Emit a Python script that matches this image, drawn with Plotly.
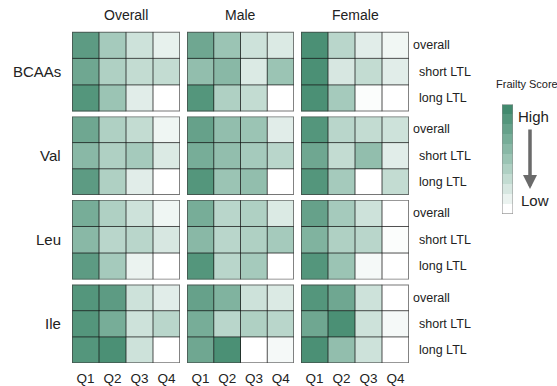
import plotly.graph_objects as go

# Frailty score heatmaps: rows = LTL subgroup, columns = quartile (0 = low, 10 = high)
quartiles = ["Q1", "Q2", "Q3", "Q4"]
subgroups = ["overall", "short LTL", "long LTL"]
metabolites = ["BCAAs", "Val", "Leu", "Ile"]
populations = ["Overall", "Male", "Female"]

bcaas_overall = [[8.5, 4.5, 2.5, 1.2], [7.5, 4.0, 3.0, 3.0], [9.0, 5.0, 1.5, 0.0]]
bcaas_male = [[7.5, 5.0, 2.5, 1.8], [5.5, 6.0, 1.8, 5.0], [9.0, 4.0, 3.0, 0.0]]
bcaas_female = [[9.5, 3.5, 1.5, 0.7], [9.5, 2.0, 3.0, 1.5], [9.5, 4.5, 0.2, 0.0]]

val_overall = [[7.5, 4.0, 3.0, 0.8], [6.0, 4.0, 4.5, 1.8], [8.5, 4.0, 1.5, 0.0]]
val_male = [[8.0, 5.5, 5.0, 1.5], [7.0, 5.5, 4.5, 3.5], [9.0, 5.0, 5.5, 0.0]]
val_female = [[9.0, 3.5, 3.0, 2.5], [7.5, 3.0, 5.5, 1.5], [9.0, 4.5, 0.0, 3.0]]

leu_overall = [[7.0, 4.0, 2.5, 0.8], [6.0, 3.5, 3.5, 2.0], [8.5, 4.5, 1.0, 0.0]]
leu_male = [[7.0, 3.5, 4.0, 1.8], [6.0, 3.5, 4.0, 4.5], [9.0, 3.5, 4.5, 0.0]]
leu_female = [[8.0, 4.5, 2.5, 0.0], [6.5, 4.0, 3.5, 0.2], [9.0, 5.0, 0.5, 0.0]]

ile_overall = [[9.0, 8.5, 2.5, 1.5], [9.0, 7.0, 2.5, 3.5], [9.0, 9.5, 2.5, 0.0]]
ile_male = [[8.0, 6.5, 2.5, 1.8], [7.0, 3.5, 4.0, 3.5], [7.5, 9.5, 0.0, 0.5]]
ile_female = [[9.0, 7.5, 2.5, 0.0], [7.5, 9.5, 2.5, 0.5], [9.5, 5.5, 2.5, 0.0]]

legend_levels = [10, 9, 8, 7, 6, 5, 4, 3, 2, 1, 0]

grid = [
    [bcaas_overall, bcaas_male, bcaas_female],
    [val_overall, val_male, val_female],
    [leu_overall, leu_male, leu_female],
    [ile_overall, ile_male, ile_female],
]

W, H = 557, 386
FONT = "Liberation Sans, Arial, sans-serif"
colorscale = [[0.0, "rgb(255,255,255)"], [0.5, "rgb(155,196,180)"], [1.0, "rgb(66,138,110)"]]

# panel placement in pixels
col_px = [(72, 180), (187, 294), (301, 409)]
row_px = [(32, 112), (117, 196), (201, 281), (286, 365)]


def px_x(v):
    return v / W


def px_y(v):
    return 1 - v / H


fig = go.Figure()
layout = {}
shapes = []
annotations = []

n = 0
for r, metab in enumerate(metabolites):
    for c, pop in enumerate(populations):
        n += 1
        xa = "x" if n == 1 else f"x{n}"
        ya = "y" if n == 1 else f"y{n}"
        fig.add_trace(go.Heatmap(
            z=grid[r][c], x=list(range(4)), y=list(range(3)),
            colorscale=colorscale, zmin=0, zmax=10, showscale=False,
            hoverinfo="skip", xaxis=xa, yaxis=ya,
        ))
        bottom = r == len(metabolites) - 1
        layout[f"xaxis{n}"] = dict(
            domain=[px_x(col_px[c][0]), px_x(col_px[c][1])],
            anchor=ya, range=[-0.5, 3.5], showgrid=False, zeroline=False,
            tickvals=list(range(4)), ticktext=quartiles,
            showticklabels=bottom, ticks="",
            tickfont=dict(family=FONT, size=13.5, color="#222"),
            ticklabelstandoff=5,
        )
        layout[f"yaxis{n}"] = dict(
            domain=[px_y(row_px[r][1]), px_y(row_px[r][0])],
            anchor=xa, range=[2.5, -0.5], showgrid=False, zeroline=False,
            showticklabels=False, ticks="",
        )
        # cell grid lines
        for k in range(1, 4):
            shapes.append(dict(type="line", xref=xa, yref=ya, x0=k - 0.5, x1=k - 0.5,
                               y0=-0.5, y1=2.5, line=dict(color="rgba(20,20,20,0.75)", width=1)))
        for k in range(1, 3):
            shapes.append(dict(type="line", xref=xa, yref=ya, x0=-0.5, x1=3.5,
                               y0=k - 0.5, y1=k - 0.5, line=dict(color="rgba(20,20,20,0.75)", width=1)))
        shapes.append(dict(type="rect", xref=xa, yref=ya, x0=-0.5, x1=3.5, y0=-0.5, y1=2.5,
                           line=dict(color="rgba(60,60,60,0.7)", width=1.8)))
        # column titles
        if r == 0:
            annotations.append(dict(text=pop, xref="paper", yref="paper",
                                    x=sum(px_x(v) for v in col_px[c]) / 2, y=px_y(15),
                                    showarrow=False, xanchor="center", yanchor="middle",
                                    font=dict(family=FONT, size=14, color="#222")))
        # subgroup labels on the right
        if c == len(populations) - 1:
            for i, lab in enumerate(subgroups):
                annotations.append(dict(text=lab, xref="paper", yref=ya,
                                        x=px_x(411 if i == 0 else 417), y=i,
                                        showarrow=False, xanchor="left", yanchor="middle",
                                        font=dict(family=FONT, size=12.5, color="#222")))
    # metabolite labels on the left
    annotations.append(dict(text=metab, xref="paper", yref="paper",
                            x=px_x(63), y=(px_y(row_px[r][0]) + px_y(row_px[r][1])) / 2,
                            showarrow=False, xanchor="right", yanchor="middle",
                            font=dict(family=FONT, size=15, color="#222")))

# legend bar
n += 1
fig.add_trace(go.Heatmap(
    z=[[v] for v in legend_levels], x=[0], y=list(range(len(legend_levels))),
    colorscale=colorscale, zmin=0, zmax=10, showscale=False, hoverinfo="skip",
    xaxis=f"x{n}", yaxis=f"y{n}",
))
layout[f"xaxis{n}"] = dict(domain=[px_x(502), px_x(513)], anchor=f"y{n}", range=[-0.5, 0.5],
                           visible=False)
layout[f"yaxis{n}"] = dict(domain=[px_y(215), px_y(105)], anchor=f"x{n}",
                           range=[len(legend_levels) - 0.5, -0.5], visible=False)
shapes.append(dict(type="rect", xref=f"x{n}", yref=f"y{n}", x0=-0.5, x1=0.5,
                   y0=-0.5, y1=len(legend_levels) - 0.5,
                   line=dict(color="#8a8a8a", width=1)))

annotations += [
    dict(text="Frailty Score", xref="paper", yref="paper", x=px_x(494), y=px_y(84),
         showarrow=False, xanchor="left", yanchor="middle",
         font=dict(family=FONT, size=11, color="#222")),
    dict(text="High", xref="paper", yref="paper", x=px_x(516), y=px_y(117),
         showarrow=False, xanchor="left", yanchor="middle",
         font=dict(family=FONT, size=15, color="#222")),
    dict(text="Low", xref="paper", yref="paper", x=px_x(519), y=px_y(202),
         showarrow=False, xanchor="left", yanchor="middle",
         font=dict(family=FONT, size=15, color="#222")),
    dict(text="", xref="paper", yref="paper", x=px_x(530), y=px_y(190),
         axref="pixel", ayref="pixel", ax=0, ay=-61, showarrow=True,
         arrowhead=2, arrowsize=0.8, arrowwidth=3.5, arrowcolor="#6a6a6a"),
]

fig.update_layout(
    width=W, height=H, margin=dict(l=0, r=0, t=0, b=0),
    paper_bgcolor="white", plot_bgcolor="white",
    shapes=shapes, annotations=annotations, showlegend=False,
    **layout,
)

fig.write_html("out.html", config={"displayModeBar": False})
